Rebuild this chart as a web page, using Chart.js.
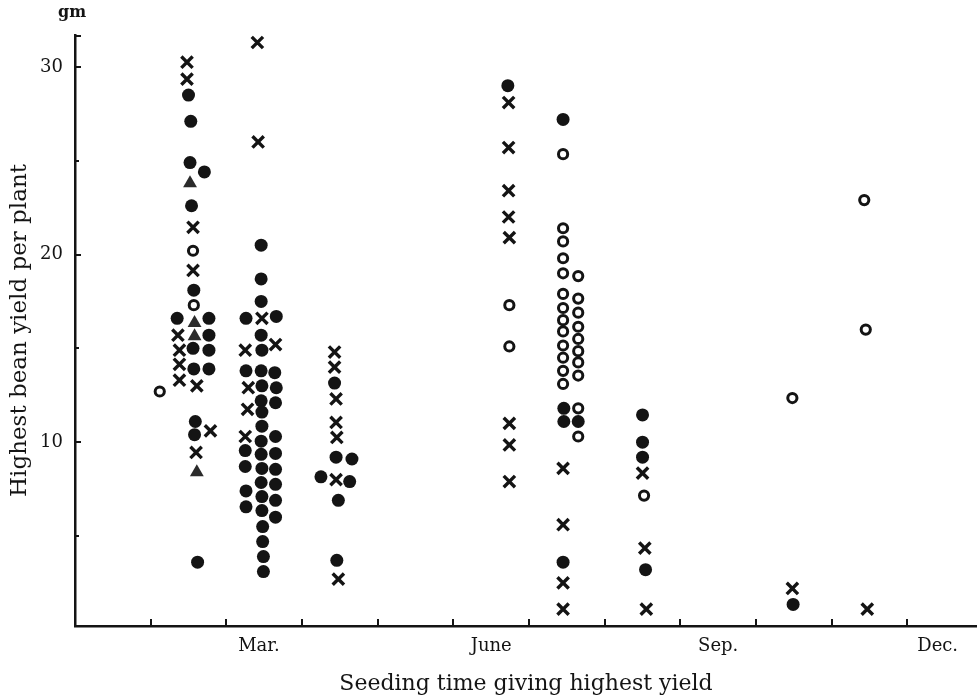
<!DOCTYPE html>
<html>
<head>
<meta charset="utf-8">
<title>Highest bean yield per plant</title>
<script src="https://cdn.jsdelivr.net/npm/chart.js@4.4.1/dist/chart.umd.min.js"></script>
<style>
  html, body { margin: 0; padding: 0; background: #fff; overflow: hidden; }
  #chart { display: block; }
</style>
</head>
<body>
<canvas id="chart" width="977" height="697"></canvas>
<script>
// x = months counted from 1 Jan (1 unit = one month), y = gm per plant
const SOLID_MONTH = [
  1.50,1.53,1.52,1.71,1.54,1.57,1.35,1.77,1.77,1.56,1.77,1.57,1.77,1.59,1.58,1.62,
  2.46,2.46,2.46,2.26,2.66,2.46,2.47,2.26,2.46,2.64,2.47,2.66,2.46,2.65,2.47,2.47,2.46,2.65,
  2.25,2.46,2.65,2.25,2.47,2.65,2.46,2.65,2.26,2.47,2.65,2.26,2.47,2.65,2.48,2.48,2.49,2.49,
  3.43,3.45,3.66,3.25,3.63,3.48,3.46,
  5.72,
  6.45,6.46,6.46,6.65,6.45,
  7.50,7.50,7.50,7.54,
  9.49
];
const SOLID_YIELD = [
  28.5,27.1,24.9,24.4,22.6,18.1,16.6,16.6,15.7,15.0,14.9,13.9,13.9,11.1,10.4,3.6,
  20.5,18.7,17.5,16.6,16.7,15.7,14.9,13.8,13.8,13.7,13.0,12.9,12.2,12.1,11.6,10.85,10.05,10.3,
  9.55,9.35,9.4,8.7,8.6,8.55,7.85,7.75,7.4,7.1,6.9,6.55,6.35,6.0,5.5,4.7,3.9,3.1,
  13.15,9.2,9.1,8.15,7.9,6.9,3.7,
  29.0,
  27.2,11.8,11.1,11.1,3.6,
  11.45,10.0,9.2,3.2,
  1.35
];

const OPEN_MONTH = [
  1.12,1.56,1.57,
  5.74,5.74,
  6.45,6.45,6.45,6.45,6.45,6.45,6.45,6.45,6.45,6.45,6.45,6.45,6.45,
  6.65,6.65,6.65,6.65,6.65,6.65,6.65,6.65,6.65,6.65,
  7.52,
  9.48,
  10.43,10.45
];
const OPEN_YIELD = [
  12.7,20.2,17.3,
  17.3,15.1,
  25.35,21.4,20.7,19.8,19.0,17.9,17.15,16.5,15.9,15.15,14.5,13.8,13.1,
  18.85,17.65,16.9,16.15,15.5,14.85,14.25,13.55,11.8,10.3,
  7.15,
  12.35,
  22.9,16.0
];

const CROSS_MONTH = [
  1.48,1.48,1.56,1.56,1.36,1.38,1.38,1.38,1.61,1.79,1.60,
  2.41,2.42,2.47,2.25,2.65,2.29,2.28,2.25,
  3.43,3.43,3.45,3.45,3.46,3.45,3.48,
  5.73,5.73,5.73,5.73,5.74,5.74,5.74,5.74,
  6.45,6.45,6.45,6.45,
  7.50,7.53,7.55,
  9.48,
  10.47
];
const CROSS_YIELD = [
  30.25,29.35,21.45,19.15,15.7,14.9,14.15,13.3,13.0,10.6,9.45,
  31.3,26.0,16.6,14.9,15.2,12.9,11.75,10.3,
  14.8,14.0,12.3,11.05,10.25,8.0,2.7,
  28.1,25.7,23.4,22.0,20.9,11.0,9.85,7.9,
  8.6,5.6,2.5,1.1,
  8.35,4.35,1.1,
  2.2,
  1.1
];

const TRI_MONTH = [1.52, 1.58, 1.58, 1.61];
const TRI_YIELD = [23.8, 16.35, 15.65, 8.4];

const MONTH_LABELS = ['Mar.', 'June', 'Sep.', 'Dec.'];
const MONTH_LABEL_AT = [2.43, 5.5, 8.5, 11.4];
const X_TICK_MONTHS = [1, 2, 3, 4, 5, 6, 7, 8, 9, 10, 11];
const Y_LABEL_AT = [10, 20, 30];
const Y_TICK_AT = [5, 10, 15, 20, 25, 30];

const INK = '#141414';
const SERIF = "'DejaVu Serif', 'Liberation Serif', serif";

const pairs = (xs, ys) => xs.map((m, i) => ({ x: m, y: ys[i] }));

// inward tick marks + the "gm" unit over the y axis
const axisMarks = {
  id: 'axisMarks',
  afterDatasetsDraw(c) {
    const { ctx, chartArea: a, scales: { x, y } } = c;
    ctx.save();
    ctx.strokeStyle = INK;
    ctx.lineWidth = 2;
    ctx.beginPath();
    X_TICK_MONTHS.forEach(m => {
      const px = Math.round(x.getPixelForValue(m));
      ctx.moveTo(px, a.bottom);
      ctx.lineTo(px, a.bottom - 7);
    });
    Y_TICK_AT.forEach(v => {
      const py = Math.round(y.getPixelForValue(v));
      ctx.moveTo(a.left, py);
      ctx.lineTo(a.left + (v % 10 ? 4 : 6), py);
    });
    ctx.moveTo(a.left, a.top + 1);
    ctx.lineTo(a.left + 6, a.top + 1);
    ctx.stroke();

    ctx.fillStyle = INK;
    ctx.font = `bold 16px ${SERIF}`;
    ctx.textAlign = 'center';
    ctx.textBaseline = 'middle';
    ctx.fillText('gm', a.left - 3, a.top - 22);
    ctx.restore();
  }
};

new Chart(document.getElementById('chart').getContext('2d'), {
  type: 'scatter',
  data: {
    datasets: [
      {
        label: 'solid',
        data: pairs(SOLID_MONTH, SOLID_YIELD),
        pointStyle: 'circle',
        pointRadius: 6.5,
        borderWidth: 0,
        backgroundColor: INK
      },
      {
        label: 'open',
        data: pairs(OPEN_MONTH, OPEN_YIELD),
        pointStyle: 'circle',
        pointRadius: 4.6,
        borderWidth: 3,
        borderColor: INK,
        backgroundColor: '#fff'
      },
      {
        label: 'cross',
        data: pairs(CROSS_MONTH, CROSS_YIELD),
        pointStyle: 'crossRot',
        pointRadius: 8,
        borderWidth: 3.4,
        borderColor: INK
      },
      {
        label: 'triangle',
        data: pairs(TRI_MONTH, TRI_YIELD),
        pointStyle: 'triangle',
        pointRadius: 8,
        borderWidth: 0,
        backgroundColor: '#2b2b2b'
      }
    ]
  },
  options: {
    responsive: false,
    animation: false,
    layout: { autoPadding: false, padding: { top: 35, left: 0, right: 0, bottom: 0 } },
    plugins: {
      legend: { display: false },
      tooltip: { enabled: false }
    },
    scales: {
      x: {
        type: 'linear',
        min: 0,
        max: 11.92,
        grid: { display: false, drawTicks: false },
        border: { display: true, color: INK, width: 2.5 },
        afterBuildTicks: s => { s.ticks = MONTH_LABEL_AT.map(v => ({ value: v })); },
        afterFit: s => { s.height = 71; s.paddingLeft = 0; s.paddingRight = 0; },
        ticks: {
          autoSkip: false,
          maxRotation: 0,
          padding: 10,
          color: INK,
          font: { family: SERIF, size: 18 },
          callback: (v, i) => MONTH_LABELS[i]
        },
        title: {
          display: true,
          text: 'Seeding time giving highest yield',
          color: INK,
          font: { family: SERIF, size: 22 },
          padding: { top: 4, bottom: 0 }
        }
      },
      y: {
        type: 'linear',
        min: 0.2,
        max: 31.7,
        grid: { display: false, drawTicks: false },
        border: { display: true, color: INK, width: 2.5 },
        afterBuildTicks: s => { s.ticks = Y_LABEL_AT.map(v => ({ value: v })); },
        afterFit: s => { s.width = 75; s.paddingTop = 0; s.paddingBottom = 0; },
        ticks: {
          padding: 12,
          color: INK,
          font: { family: SERIF, size: 18 },
          callback: v => String(v)
        },
        title: {
          display: true,
          text: 'Highest bean yield per plant',
          color: INK,
          font: { family: SERIF, size: 23 },
          padding: { top: 6, bottom: 0 }
        }
      }
    }
  },
  plugins: [axisMarks]
});
</script>
</body>
</html>
